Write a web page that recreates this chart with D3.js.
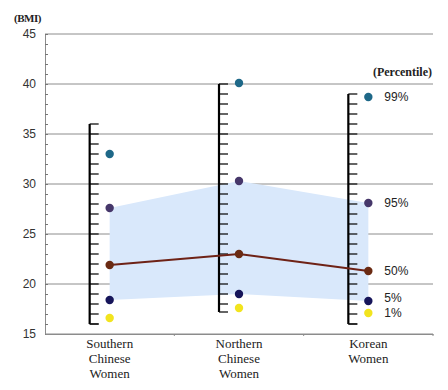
<!DOCTYPE html>
<html>
<head>
<meta charset="utf-8">
<script src="https://cdn.jsdelivr.net/npm/d3@7"></script>
<style>
  body { margin: 0; background: #fff; }
  svg { display: block; }
</style>
</head>
<body>
<div id="chart"></div>
<script>
const width = 448;
const height = 390;
const MARGIN = { top: 34, right: 15, bottom: 56, left: 45 };

// categories (label lines) and percentile values
const categories = ['Southern Chinese Women', 'Northern Chinese Women', 'Korean Women'];
const categoryLines = [['Southern', 'Chinese', 'Women'], ['Northern', 'Chinese', 'Women'], ['Korean', 'Women']];
const percentiles = ['99%', '95%', '50%', '5%', '1%'];
const p99 = [33.0, 40.1, 38.7];
const p95 = [27.6, 30.3, 28.1];
const p50 = [21.9, 23.0, 21.3];
const p5 = [18.4, 19.0, 18.3];
const p1 = [16.6, 17.6, 17.1];
// percentile ruler extents (BMI)
const rulerTop = [36, 40, 39];
const rulerBottom = [16, 17.2, 16];
const yTicks = [15, 20, 25, 30, 35, 40, 45];

const colors = ['#1e6888', '#46376a', '#6a2a12', '#16155a', '#f2e41e'];

const innerW = width - MARGIN.left - MARGIN.right;
const innerH = height - MARGIN.top - MARGIN.bottom;

const svg = d3.select('#chart').append('svg')
  .attr('width', width)
  .attr('height', height);

const g = svg.append('g')
  .attr('transform', 'translate(' + MARGIN.left + ',' + MARGIN.top + ')');

const x = d3.scaleBand().domain(categories).range([0, innerW]);
const y = d3.scaleLinear().domain([15, 45]).range([innerH, 0]);
const cx = (i) => x(categories[i]) + x.bandwidth() / 2;

// gridlines
g.append('g').selectAll('line')
  .data(yTicks)
  .join('line')
  .attr('x1', 0).attr('x2', innerW)
  .attr('y1', (d) => y(d)).attr('y2', (d) => y(d))
  .attr('stroke', '#8c8c8c')
  .attr('stroke-width', 1);

// y axis with labels
const yAxis = g.append('g')
  .call(d3.axisLeft(y).tickValues(yTicks).tickSize(0).tickPadding(9));
yAxis.select('.domain').attr('stroke', '#8c8c8c');
yAxis.selectAll('text')
  .attr('font-family', 'Liberation Sans, Arial, sans-serif')
  .attr('font-size', 12)
  .attr('fill', '#333');

// minor ticks inside the y axis
g.append('g')
  .call(d3.axisRight(y).ticks(30).tickSize(3).tickFormat(''))
  .call((a) => a.select('.domain').remove())
  .selectAll('line').attr('stroke', '#777');

// x axis
const xAxis = g.append('g')
  .attr('transform', 'translate(0,' + innerH + ')')
  .call(d3.axisBottom(x).tickSize(0).tickFormat(''));
xAxis.select('.domain').attr('stroke', '#8c8c8c');
g.append('g').selectAll('line')
  .data([x.bandwidth(), 2 * x.bandwidth(), 3 * x.bandwidth()])
  .join('line')
  .attr('x1', (d) => d).attr('x2', (d) => d)
  .attr('y1', innerH).attr('y2', innerH + 2)
  .attr('stroke', '#8c8c8c');

// category labels
const labels = g.append('g').selectAll('text')
  .data(categoryLines)
  .join('text')
  .attr('x', (d, i) => cx(i))
  .attr('y', innerH + 14)
  .attr('text-anchor', 'middle')
  .attr('font-family', 'Liberation Serif, Times New Roman, serif')
  .attr('font-size', 13)
  .attr('fill', '#222');
labels.selectAll('tspan')
  .data((d, i) => d.map((t) => ({ t: t, i: i })))
  .join('tspan')
  .attr('x', (d) => cx(d.i))
  .attr('dy', (d, j) => (j === 0 ? 0 : 15))
  .text((d) => d.t);

// shaded 5%-95% band
const area = d3.area()
  .x((d, i) => cx(i))
  .y0((d, i) => y(p5[i]))
  .y1((d, i) => y(p95[i]));
g.append('path')
  .datum(categories)
  .attr('d', area)
  .attr('fill', '#d9e8fb');

// percentile rulers
categories.forEach((c, i) => {
  const rx = cx(i) - 20;
  const ruler = g.append('g');
  ruler.selectAll('line.tick')
    .data(d3.range(Math.ceil(rulerBottom[i]), rulerTop[i] + 1))
    .join('line')
    .attr('class', 'tick')
    .attr('x1', rx).attr('x2', rx + 9)
    .attr('y1', (d) => y(d)).attr('y2', (d) => y(d))
    .attr('stroke', '#111')
    .attr('stroke-width', 1.3);
  ruler.append('line')
    .attr('x1', rx).attr('x2', rx)
    .attr('y1', y(rulerTop[i])).attr('y2', y(rulerBottom[i]))
    .attr('stroke', '#000')
    .attr('stroke-width', 2.2);
  ruler.append('line')
    .attr('x1', rx).attr('x2', rx + 9)
    .attr('y1', y(rulerBottom[i])).attr('y2', y(rulerBottom[i]))
    .attr('stroke', '#111')
    .attr('stroke-width', 1.3);
});

// median line
const line = d3.line()
  .x((d, i) => cx(i))
  .y((d) => y(d));
g.append('path')
  .datum(p50)
  .attr('d', line)
  .attr('fill', 'none')
  .attr('stroke', '#6e2216')
  .attr('stroke-width', 2);

// percentile dots
const series = [p99, p95, p50, p5, p1];
series.forEach((s, k) => {
  g.append('g').selectAll('circle')
    .data(s)
    .join('circle')
    .attr('cx', (d, i) => cx(i))
    .attr('cy', (d) => y(d))
    .attr('r', 4.2)
    .attr('fill', colors[k]);
});

// percentile labels next to the last category, pushed apart when crowded
const last = categories.length - 1;
const labelY = series.map((s) => y(s[last]));
for (let k = labelY.length - 2; k >= 0; k--) {
  if (labelY[k + 1] - labelY[k] < 15) labelY[k] = labelY[k + 1] - 15;
}
g.append('g').selectAll('text')
  .data(percentiles)
  .join('text')
  .attr('x', cx(last) + 16)
  .attr('y', (d, k) => labelY[k])
  .attr('dy', '0.35em')
  .attr('font-family', 'Liberation Sans, Arial, sans-serif')
  .attr('font-size', 12)
  .attr('fill', '#222')
  .text((d) => d);

// unit labels
svg.append('text')
  .attr('x', 14).attr('y', 22)
  .attr('font-family', 'Liberation Serif, Times New Roman, serif')
  .attr('font-size', 11)
  .attr('font-weight', 'bold')
  .attr('letter-spacing', -0.5)
  .attr('fill', '#222')
  .text('(BMI)');

svg.append('text')
  .attr('x', MARGIN.left + innerW - 1).attr('y', 76)
  .attr('text-anchor', 'end')
  .attr('font-family', 'Liberation Serif, Times New Roman, serif')
  .attr('font-size', 12)
  .attr('font-weight', 'bold')
  .attr('fill', '#222')
  .text('(Percentile)');
</script>
</body>
</html>
